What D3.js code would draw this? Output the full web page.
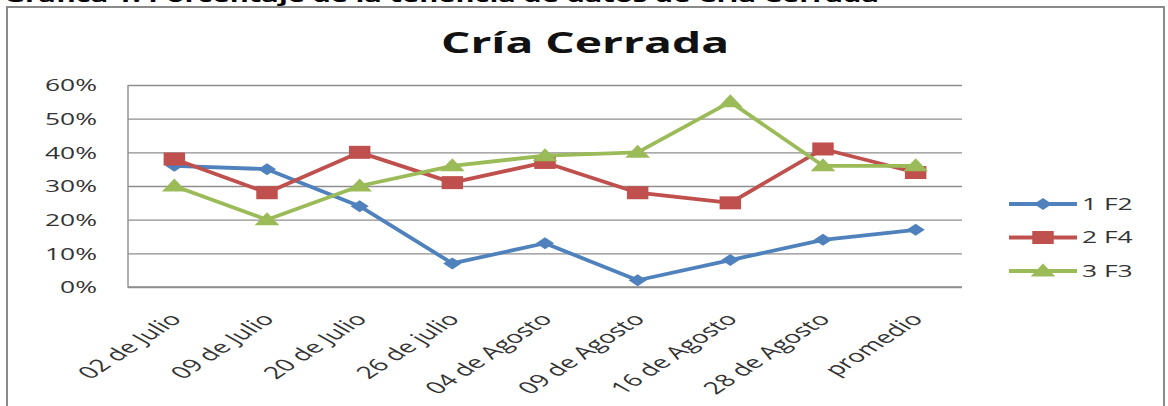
<!DOCTYPE html>
<html>
<head>
<meta charset="utf-8">
<script src="https://cdn.jsdelivr.net/npm/d3@7"></script>
<style>
  body { margin: 0; background: #fff; }
  svg { display: block; font-family: "Open Sans", sans-serif; }
</style>
</head>
<body>
<svg id="chart" width="1168" height="406"></svg>
<script>
// data
const categories = ["02 de Julio", "09 de Julio", "20 de Julio", "26 de julio", "04 de Agosto",
    "09 de Agosto", "16 de Agosto", "28 de Agosto", "promedio"];
const seriesNames = ["1 F2", "2 F4", "3 F3"];
const f2Values = [0.36, 0.35, 0.24, 0.07, 0.13, 0.02, 0.08, 0.14, 0.17];
const f4Values = [0.38, 0.28, 0.40, 0.31, 0.37, 0.28, 0.25, 0.41, 0.34];
const f3Values = [0.30, 0.20, 0.30, 0.36, 0.39, 0.40, 0.55, 0.36, 0.36];
const yTicks = [0, 0.1, 0.2, 0.3, 0.4, 0.5, 0.6];

const seriesColors = ["#4f81bd", "#c0504d", "#9bbb59"];
const seriesShapes = ["diamond", "square", "triangle"];

// the original picture is stretched sideways, so text and markers get squeezed back out
const SX = 1.65;

const margin = { top: 85, right: 206, bottom: 119, left: 128 };
const width = 1168, height = 406;

const svg = d3.select("#chart");

// caption cut off at the top of the picture
svg.append("text")
    .attr("transform", `translate(4,2) scale(${SX},1)`)
    .attr("font-weight", "bold")
    .attr("font-size", 17.6)
    .attr("fill", "#000")
    .text("Gráfica 1. Porcentaje de la tenencia de datos de Cría Cerrada");

// chart frame
svg.append("rect")
    .attr("x", 7)
    .attr("y", 7)
    .attr("width", 1157)
    .attr("height", 430)
    .attr("fill", "#fff")
    .attr("stroke", "#8a8a8a")
    .attr("stroke-width", 2);

svg.append("text")
    .attr("transform", `translate(585,53) scale(${SX},1)`)
    .attr("text-anchor", "middle")
    .attr("font-weight", "bold")
    .attr("font-size", 28)
    .attr("fill", "#111")
    .text("Cría Cerrada");

const x = d3.scalePoint()
    .domain(categories)
    .range([margin.left, width - margin.right])
    .padding(0.5);

const y = d3.scaleLinear()
    .domain([0, 0.6])
    .range([height - margin.bottom, margin.top]);

// gridlines + y labels
svg.append("g")
    .attr("transform", `translate(${margin.left},0)`)
    .call(d3.axisLeft(y)
        .tickValues(yTicks)
        .tickFormat(d3.format(".0%"))
        .tickSize(-(width - margin.left - margin.right)))
    .call(g => g.select(".domain").remove())
    .call(g => g.selectAll(".tick line")
        .attr("stroke", "#8e8e8e")
        .attr("stroke-width", 1.4))
    .call(g => g.selectAll(".tick text")
        .attr("x", null)
        .attr("dy", "0.36em")
        .attr("transform", `translate(-31,0) scale(${SX},1)`)
        .attr("font-family", "Open Sans")
        .attr("font-size", 16)
        .attr("fill", "#333"));

// plot area left and bottom edge
svg.append("path")
    .attr("d", d3.line()([[margin.left, y(0.6)], [margin.left, y(0)], [width - margin.right, y(0)]]))
    .attr("fill", "none")
    .attr("stroke", "#8e8e8e")
    .attr("stroke-width", 1.4);

// x labels
svg.append("g")
    .attr("transform", `translate(0,${y(0)})`)
    .call(d3.axisBottom(x).tickSize(0))
    .call(g => g.select(".domain").remove())
    .call(g => g.selectAll(".tick text")
        .attr("y", null)
        .attr("dy", null)
        .attr("text-anchor", "end")
        .attr("transform", `translate(8,33) scale(${SX},1) rotate(-47)`)
        .attr("font-family", "Open Sans")
        .attr("font-size", 17)
        .attr("fill", "#333"));

function markerPath(shape) {
    if (shape === "diamond") return "M0,-6L5.5,0L0,6L-5.5,0Z";
    if (shape === "square") return "M-6.5,-6.5H6.5V6.5H-6.5Z";
    return "M0,-7.5L7.5,5.5H-7.5Z";
}

const series = [f2Values, f4Values, f3Values].map((values, i) => ({
    name: seriesNames[i],
    color: seriesColors[i],
    shape: seriesShapes[i],
    values: values
}));

const line = d3.line()
    .x((d, i) => x(categories[i]))
    .y(d => y(d));

const plot = svg.append("g");

series.forEach(s => {
    const g = plot.append("g");
    g.append("path")
        .attr("d", line(s.values))
        .attr("fill", "none")
        .attr("stroke", s.color)
        .attr("stroke-width", 3.8)
        .attr("stroke-linejoin", "round");
    g.selectAll("path.marker")
        .data(s.values)
        .join("path")
        .attr("class", "marker")
        .attr("d", markerPath(s.shape))
        .attr("transform", (d, i) => `translate(${x(categories[i])},${y(d)}) scale(${SX},1)`)
        .attr("fill", s.color);
});

// legend
const legend = svg.append("g")
    .attr("transform", "translate(1009,204)");

const item = legend.selectAll("g")
    .data(series)
    .join("g")
    .attr("transform", (d, i) => `translate(0,${i * 33.5})`);

item.append("line")
    .attr("x1", 0)
    .attr("x2", 68)
    .attr("stroke", d => d.color)
    .attr("stroke-width", 3.8);

item.append("path")
    .attr("d", d => markerPath(d.shape))
    .attr("transform", `translate(34,0) scale(${SX},1)`)
    .attr("fill", d => d.color);

item.append("text")
    .attr("transform", `translate(73,0) scale(${SX},1)`)
    .attr("dy", "0.36em")
    .attr("font-size", 16)
    .attr("fill", "#333")
    .text(d => d.name);
</script>
</body>
</html>
